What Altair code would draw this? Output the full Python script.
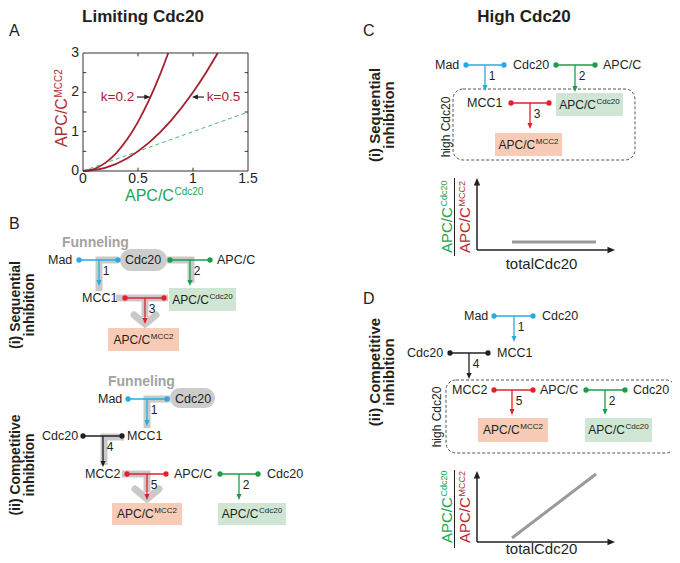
import math
import altair as alt
import pandas as pd

FONT = "Liberation Sans"

# ---------------- Panel A: values ----------------
k02_x = [0.0, 0.1, 0.2, 0.3, 0.4, 0.5, 0.6, 0.7, 0.775]
k02_y = [0.0, 0.05, 0.2, 0.45, 0.8, 1.25, 1.8, 2.45, 3.0]
k05_x = [0.0, 0.2, 0.4, 0.6, 0.8, 1.0, 1.1, 1.225]
k05_y = [0.0, 0.08, 0.32, 0.72, 1.28, 2.0, 2.42, 3.0]
ref_x = [0.0, 1.5]
ref_y = [0.0, 1.5]
curve_names = ["k=0.2", "k=0.5"]
a_x_ticks = [0, 0.5, 1, 1.5]
a_x_labels = ["0", "0.5", "1", "1.5"]
a_y_ticks = [0, 1, 2, 3]
a_y_labels = ["0", "1", "2", "3"]
a_y_minor = [0.5, 1, 1.5, 2, 2.5]

# ---------------- text ----------------
col_titles = ["Limiting Cdc20", "High Cdc20"]
panel_letters = ["A", "B", "C", "D"]
scheme_1 = ["(i) Sequential", "inhibition"]
scheme_2 = ["(ii) Competitive", "inhibition"]

# ---------------- colours ----------------
DARK = "#231f20"
COL = {"blue": "#29aae1", "green": "#1c9d4c", "red": "#e4202d", "black": "#231f20"}
FUNNEL = "#c9c9c9"
SALMON = "#f8cbb6"
MINT = "#cfe6d4"
CURVE = "#a3222d"
YLAB = "#b32c33"
XLAB = "#21a457"
DASHG = "#4fb57f"

# ---------------- diagram layout (page pixels) ----------------
# reactions: left dot x, right dot x, row y, arrow x, arrow tip y, colour, step number
reactions = [
    (79, 118, 260, 99, 286, "blue", "1"), (170, 210, 260, 190, 286, "green", "2"),
    (125, 164, 298, 145, 324, "red", "3"),
    (128, 167, 399, 147, 426, "blue", "1"), (83, 122, 436, 103, 467, "black", "4"),
    (127, 166, 474, 147, 500, "red", "5"), (220, 258, 474, 239, 500, "green", "2"),
    (466, 504, 65, 485, 91, "blue", "1"), (556, 595, 65, 575, 92, "green", "2"),
    (511, 549, 103, 530, 129, "red", "3"),
    (494, 533, 316, 514, 342, "blue", "1"), (450, 488, 353, 469, 379, "black", "4"),
    (494, 533, 390, 512, 415, "red", "5"), (586, 625, 390, 605, 415, "green", "2"),
]
species = [
    ("Mad", 48, 260), ("Cdc20", 125, 260), ("APC/C", 217, 260), ("MCC1", 82, 298),
    ("Mad", 98, 399), ("Cdc20", 175, 399), ("Cdc20", 42, 436), ("MCC1", 127, 436),
    ("MCC2", 85, 474), ("APC/C", 174, 474), ("Cdc20", 267, 474),
    ("Mad", 435, 65), ("Cdc20", 513, 65), ("APC/C", 603, 65), ("MCC1", 467, 103),
    ("Mad", 464, 316), ("Cdc20", 542, 316), ("Cdc20", 407, 353), ("MCC1", 497, 353),
    ("MCC2", 452, 390), ("APC/C", 540, 390), ("Cdc20", 633, 390),
]
# product boxes: x0, x1, y0, y1, kind
boxes = [
    (169, 236, 288, 311, "Cdc20"), (108, 179, 328, 351, "MCC2"),
    (112, 182, 503, 525, "MCC2"), (218, 286, 503, 525, "Cdc20"),
    (556, 623, 93, 116, "Cdc20"), (495, 562, 133, 156, "MCC2"),
    (478, 548, 418, 442, "MCC2"), (585, 652, 418, 442, "Cdc20"),
]
pills = [(120, 167, 249, 271), (170, 215, 388, 408)]
dashed = [(453, 635, 89, 160), (446, 676, 380, 453)]
funnel_paths = [
    [(118, 260), (99, 260), (99, 291)],
    [(116, 298), (168, 298)],
    [(145, 298), (145, 317)],
    [(167, 260), (191, 260), (191, 283)],
    [(170, 399), (147, 399), (147, 428)],
    [(124, 437), (104, 437), (104, 465)],
    [(122, 474), (147, 474), (147, 492)],
]
chevrons = [[(134, 315), (145, 324), (156, 315)], [(135, 489), (147, 499), (159, 489)]]

SHAPES = {
    "down": "M-0.85,-1L0.85,-1L0,1Z",
    "up": "M-0.85,1L0.85,1L0,-1Z",
    "right": "M-1,-0.85L-1,0.85L1,0Z",
    "left": "M1,-0.85L1,0.85L-1,0Z",
}

W_ARIAL = {"A": .667, "P": .667, "C": .722, "/": .278, "M": .833, "c": .5,
           "d": .556, "2": .556, "0": .556}


def tw(s, fs):
    return sum(W_ARIAL[ch] for ch in s) * fs


PX = alt.Scale(domain=[8, 672], range=[0, 664], nice=False, zero=False)
PY = alt.Scale(domain=[8, 555], range=[0, 547], nice=False, zero=False)
AXS = alt.Scale(domain=[0, 1.5], range=[75, 240], nice=False, zero=False)
AYS = alt.Scale(domain=[0, 3], range=[163, 45], nice=False, zero=False)


def enc(scx, scy, two=False):
    d = dict(x=alt.X("x:Q", scale=scx, axis=None), y=alt.Y("y:Q", scale=scy, axis=None))
    if two:
        d["x2"] = alt.X2("x2:Q")
        d["y2"] = alt.Y2("y2:Q")
    return d


def texts(rows, scx=PX, scy=PY, **mk):
    df = pd.DataFrame(rows, columns=["x", "y", "t", "fs", "c"])
    return alt.Chart(df).mark_text(font=FONT, **mk).encode(
        **enc(scx, scy), text="t:N",
        size=alt.Size("fs:Q", scale=None), color=alt.Color("c:N", scale=None))


def rules(rows, scx=PX, scy=PY, **mk):
    df = pd.DataFrame(rows, columns=["x", "x2", "y", "y2", "c"])
    return alt.Chart(df).mark_rule(**mk).encode(**enc(scx, scy, True),
                                                color=alt.Color("c:N", scale=None))


def heads(rows, direction, size, scx=PX, scy=PY):
    r = math.sqrt(size) / 2
    off = {"down": (0, -r), "up": (0, r), "right": (-r, 0), "left": (r, 0)}[direction]
    df = pd.DataFrame(rows, columns=["x", "y", "c"])
    return alt.Chart(df).mark_point(shape=SHAPES[direction], size=size, filled=True,
                                    opacity=1, strokeWidth=0, xOffset=off[0],
                                    yOffset=off[1]).encode(
        **enc(scx, scy), color=alt.Color("c:N", scale=None))


def paths(plist, **mk):
    rows = [(i, j, x, y) for i, p in enumerate(plist) for j, (x, y) in enumerate(p)]
    df = pd.DataFrame(rows, columns=["pid", "o", "x", "y"])
    return alt.Chart(df).mark_line(**mk).encode(**enc(PX, PY), detail="pid:N", order="o:Q")


def rects(rows, **mk):
    df = pd.DataFrame(rows, columns=["x", "x2", "y", "y2", "c"])
    return alt.Chart(df).mark_rect(**mk).encode(**enc(PX, PY, True),
                                                fill=alt.Fill("c:N", scale=None))


layers = []
# funnelling backgrounds
layers.append(rects([(a, b, c, d, "#cccccc") for a, b, c, d in pills], cornerRadius=11))
layers.append(paths(funnel_paths, color=FUNNEL, strokeWidth=7, strokeCap="butt", strokeJoin="miter"))
layers.append(paths(chevrons, color=FUNNEL, strokeWidth=7, strokeCap="round", strokeJoin="miter"))
# product boxes
layers.append(rects([(b[0], b[1], b[2], b[3], MINT if b[4] == "Cdc20" else SALMON) for b in boxes]))
# dashed "high Cdc20" boxes
ddf = pd.DataFrame([(a, b, c, d) for a, b, c, d in dashed], columns=["x", "x2", "y", "y2"])
layers.append(alt.Chart(ddf).mark_rect(fillOpacity=0, stroke="#555555", strokeWidth=1,
                                        strokeDash=[3, 2], cornerRadius=10).encode(**enc(PX, PY, True)))

# reactions
r_rows, d_rows, h_rows, n_rows = [], [], [], []
for xl, xr, y, ax, tip, cn, num in reactions:
    c = COL[cn]
    r_rows.append((xl, xr, y, y, c))
    r_rows.append((ax, ax, y, tip - 4, c))
    d_rows += [(xl, y, c), (xr, y, c)]
    h_rows.append((ax, tip, c))
    n_rows.append((ax + 7, y + 11, num, 12, DARK))
layers.append(rules(r_rows, strokeWidth=1.3))
layers.append(heads(h_rows, "down", 36))
ddots = pd.DataFrame(d_rows, columns=["x", "y", "c"])
layers.append(alt.Chart(ddots).mark_circle(size=28, opacity=1).encode(
    **enc(PX, PY), color=alt.Color("c:N", scale=None)))

# labels
layers.append(texts([(x, y, t, 12.5, DARK) for t, x, y in species], align="left", baseline="middle"))
layers.append(texts(n_rows, align="center", baseline="middle"))
layers.append(texts([(62, 243, "Funneling", 14, "#a3a3a3"), (108, 382, "Funneling", 14, "#a3a3a3")],
                    align="left", baseline="middle", fontWeight="bold"))

# composite APC/C^x labels (horizontal)
comp = []
for x0, x1, y0, y1, kind in boxes:
    tot = tw("APC/C", 12) + 0.6 + tw(kind, 8)
    sx = (x0 + x1) / 2 - tot / 2
    by = (y0 + y1) / 2 + 4.3
    comp.append((sx, by, "APC/C", 12, DARK))
    comp.append((sx + tw("APC/C", 12) + 0.6, by - 5, kind, 8, DARK))
# panel A x-axis title
comp.append((125, 200.5, "APC/C", 16, XLAB))
comp.append((125 + tw("APC/C", 16) + 0.6, 195, "Cdc20", 10, XLAB))
layers.append(texts(comp, align="left", baseline="alphabetic"))

# rotated composite labels
rot = [(67, 147, "APC/C", 16, YLAB), (61.5, 147 - tw("APC/C", 16) - 0.6, "MCC2", 10, YLAB)]
for yb in (253, 543):
    rot += [(452, yb, "APC/C", 15, XLAB), (447, yb - tw("APC/C", 15) - 0.6, "Cdc20", 9, XLAB),
            (470, yb, "APC/C", 15, YLAB), (465, yb - tw("APC/C", 15) - 0.6, "MCC2", 9, YLAB)]
layers.append(texts(rot, align="left", baseline="alphabetic", angle=270))

# titles, letters, scheme names
layers.append(texts([(143, 22, col_titles[0], 17, DARK), (524, 22, col_titles[1], 17, DARK)],
                    align="center", baseline="alphabetic", fontWeight="bold"))
layers.append(texts([(9, 31, panel_letters[0], 16, DARK), (9, 224, panel_letters[1], 16, DARK),
                     (363, 31, panel_letters[2], 16, DARK), (363, 299, panel_letters[3], 16, DARK)],
                    align="left", baseline="middle"))
sch = [(20, 305, scheme_1[0], 14, DARK), (34, 305, scheme_1[1], 14, DARK),
       (20, 465, scheme_2[0], 14, DARK), (34, 465, scheme_2[1], 14, DARK),
       (380, 115, scheme_1[0], 15, DARK), (394, 115, scheme_1[1], 15, DARK),
       (380, 372, scheme_2[0], 15, DARK), (394, 372, scheme_2[1], 15, DARK)]
layers.append(texts(sch, align="center", baseline="alphabetic", angle=270, fontWeight="bold"))
layers.append(texts([(450, 127, "high Cdc20", 12, DARK), (441, 417, "high Cdc20", 12, DARK)],
                    align="center", baseline="alphabetic", angle=270))

# schematic plots in C and D
ax_rules, up_h, right_h, frac = [], [], [], []
for yb, ytip in ((250, 178), (542, 471)):
    ax_rules += [(477, 477, yb, ytip + 7, DARK), (477, 608, yb, yb, DARK)]
    up_h.append((477, ytip, DARK))
    right_h.append((615, yb, DARK))
    frac.append((454.5, 454.5, yb - 72, yb + 6, DARK))
gray_r = [(512, 596, 242, 242, "#9a9a9a"), (512, 596, 538, 474, "#9a9a9a")]
layers.append(rules(ax_rules, strokeWidth=1.5))
layers.append(rules(frac, strokeWidth=1))
layers.append(rules(gray_r, strokeWidth=3))
layers.append(heads(up_h, "up", 56))
layers.append(heads(right_h, "right", 56))
layers.append(texts([(541.5, 264, "totalCdc20", 15, DARK), (541.5, 548.5, "totalCdc20", 15, DARK)],
                    align="center", baseline="middle"))

diagram = alt.layer(*layers)

# ---------------- panel A plot ----------------
cdf = pd.DataFrame({
    "x": k02_x + k05_x, "y": k02_y + k05_y,
    "k": [curve_names[0]] * len(k02_x) + [curve_names[1]] * len(k05_x),
    "o": list(range(len(k02_x))) + list(range(len(k05_x)))})
curves = alt.Chart(cdf).mark_line(color=CURVE, strokeWidth=1.8, interpolate="monotone").encode(
    **enc(AXS, AYS), detail="k:N", order="o:Q")
refl = alt.Chart(pd.DataFrame({"x": ref_x, "y": ref_y})).mark_line(
    color=DASHG, strokeWidth=1, strokeDash=[4, 3]).encode(**enc(AXS, AYS))
frame = alt.Chart(pd.DataFrame({"x": [0], "x2": [1.5], "y": [0], "y2": [3]})).mark_rect(
    fillOpacity=0, stroke="#333333", strokeWidth=1).encode(**enc(AXS, AYS, True))
tk = []
for t in a_x_ticks[1:-1]:
    tk += [(t, t, 0, 0.085, "#333333"), (t, t, 3, 2.915, "#333333")]
for t in a_y_minor:
    tk += [(0, 0.03, t, t, "#333333"), (1.5, 1.47, t, t, "#333333")]
ticks = rules(tk, AXS, AYS, strokeWidth=1)
xl = texts([(t, 0, l, 14, DARK) for t, l in zip(a_x_ticks, a_x_labels)], AXS, AYS,
           align="center", baseline="top", dy=1)
yl = texts([(0, t, l, 14, DARK) for t, l in zip(a_y_ticks, a_y_labels)], AXS, AYS,
           align="right", baseline="middle", dx=-4)
kl1 = texts([(0.465, 1.88, curve_names[0], 13.5, CURVE)], AXS, AYS, align="right", baseline="middle")
kl2 = texts([(1.125, 1.88, curve_names[1], 13.5, CURVE)], AXS, AYS, align="left", baseline="middle")
karr = rules([(0.49, 0.59, 1.88, 1.88, DARK), (1.1, 1.02, 1.88, 1.88, DARK)], AXS, AYS, strokeWidth=1.2)
kh1 = heads([(0.612, 1.88, DARK)], "right", 36, AXS, AYS)
kh2 = heads([(0.99, 1.88, DARK)], "left", 36, AXS, AYS)
panel_a = alt.layer(refl, curves, frame, ticks, xl, yl, kl1, kl2, karr, kh1, kh2)

chart = alt.layer(diagram, panel_a).resolve_scale(x="independent", y="independent").properties(
    width=664, height=547, padding=0, autosize="none", background="white"
).configure_view(strokeWidth=0)

chart.save("out.html", embed_options={"renderer": "svg", "actions": False})
